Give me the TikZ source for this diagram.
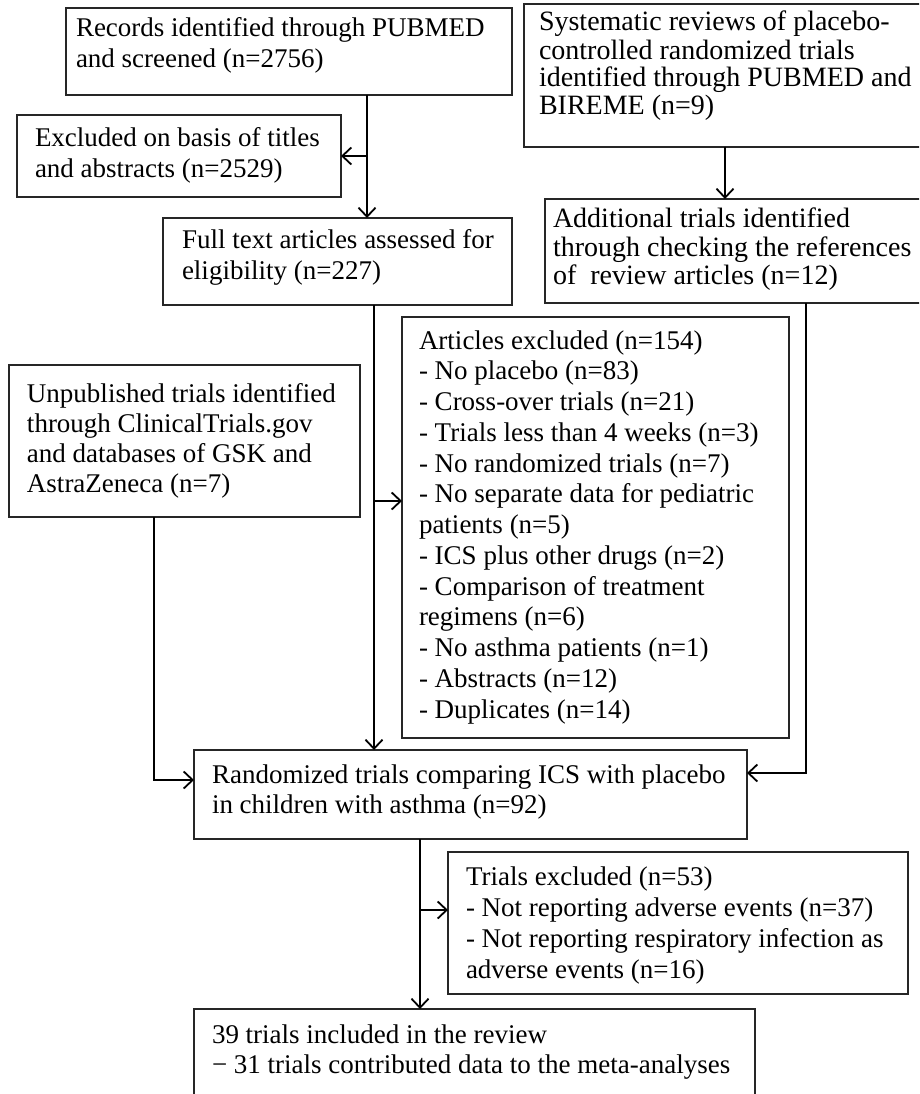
\documentclass[tikz,border=0pt]{standalone}
\usepackage{fontspec}
\setmainfont{Liberation Serif}
\usetikzlibrary{arrows.meta}
% #1 width, #2 height, #3 top pad, #4 left pad, #5 font size, #6 baselineskip, #7 text
\newcommand{\bxtext}[7]{%
  \begin{minipage}[t][#2pt][t]{#1pt}\fontsize{#5pt}{#6pt}\selectfont
  \vspace*{#3pt}\raggedright\leftskip=#4pt\relax\noindent\strut #7\end{minipage}}
\tikzset{
  flowbox/.style={draw=black!85, line width=1.4pt, inner sep=0pt, outer sep=0pt, anchor=north west},
  conn/.style={draw=black, line width=1.8pt, -{Straight Barb[length=9pt,width=17pt]}},
  plain/.style={draw=black, line width=1.8pt}
}
\begin{document}
\begin{tikzpicture}[x=1pt,y=-1pt]
\useasboundingbox (0,0) rectangle (919,1094);
\fill[white] (0,0) rectangle (919,1094);
\clip (0,0) rectangle (919,1094);

\node[flowbox] (A) at (66,8) {\bxtext{446}{87}{7.3}{10}{27}{31}{Records identified through PUBMED\\and screened (n=2756)}};
\node[flowbox] (B) at (17,115) {\bxtext{324}{82}{10.3}{18}{27}{31}{Excluded on basis of titles\\and abstracts (n=2529)}};
\node[flowbox] (C) at (163,218) {\bxtext{349}{87}{7.6}{19}{27}{32}{Full text articles assessed for\\eligibility (n=227)}};
\node[flowbox] (D) at (524,4) {\bxtext{420}{143}{6.75}{15}{28}{27.5}{Systematic reviews of placebo-\\controlled randomized trials\\identified through PUBMED and\\BIREME (n=9)}};
\node[flowbox] (E) at (545,199) {\bxtext{400}{104}{9}{8}{28}{28.5}{Additional trials identified\\through checking the references\\of~ review articles (n=12)}};
\node[flowbox] (F) at (402,317) {\bxtext{387}{421}{10.5}{17}{27}{30.75}{Articles excluded (n=154)\\- No placebo (n=83)\\- Cross-over trials (n=21)\\- Trials less than 4 weeks (n=3)\\- No randomized trials (n=7)\\- No separate data for pediatric\\patients (n=5)\\- ICS plus other drugs (n=2)\\- Comparison of treatment\\regimens (n=6)\\- No asthma patients (n=1)\\- Abstracts (n=12)\\- Duplicates (n=14)}};
\node[flowbox] (H) at (9,365) {\bxtext{351}{152}{16}{18}{27}{30}{Unpublished trials identified\\through ClinicalTrials.gov\\and databases of GSK and\\AstraZeneca (n=7)}};
\node[flowbox] (G) at (194,750) {\bxtext{553}{89}{12}{18}{27}{30}{Randomized trials comparing ICS with placebo\\in children with asthma (n=92)}};
\node[flowbox] (I) at (448,852) {\bxtext{460}{142}{11.3}{18}{27}{31}{Trials excluded (n=53)\\- Not reporting adverse events (n=37)\\- Not reporting respiratory infection as\\adverse events (n=16)}};
\node[flowbox] (J) at (194,1009) {\bxtext{561}{110}{13}{18}{27}{30}{39 trials included in the review\\− 31 trials contributed data to the meta-analyses}};

\coordinate (k1) at (367,0);
\draw[conn] (A.south -| k1) -- (C.north -| k1);
\draw[conn] (B.east -| k1) -- (B.east);
\coordinate (k2) at (725,0);
\draw[conn] (D.south -| k2) -- (E.north -| k2);
\coordinate (k3) at (374,501);
\draw[conn] (C.south -| k3) -- (G.north -| k3);
\draw[conn] (k3) -- (k3 -| F.west);
\coordinate (k4) at (154,780);
\draw[conn] (H.south -| k4) -- (k4) -- (k4 -| G.west);
\coordinate (k5) at (806,773);
\draw[conn] (E.south -| k5) -- (k5) -- (k5 -| G.east);
\coordinate (k6) at (420,910);
\draw[conn] (G.south -| k6) -- (J.north -| k6);
\draw[conn] (k6) -- (k6 -| I.west);
\end{tikzpicture}
\end{document}
